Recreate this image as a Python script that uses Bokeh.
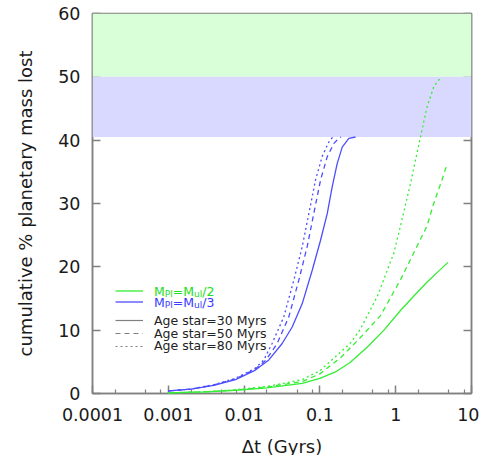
from bokeh.plotting import figure
from bokeh.models import (Range1d, FixedTicker, CustomJSTickFormatter, LinearAxis,
                          BoxAnnotation, Legend, LegendItem, Label)
from bokeh.embed import file_html
from bokeh.resources import INLINE

# ---------------- data ----------------
x_ticks = [0.0001, 0.001, 0.01, 0.1, 1, 10]
x_tick_labels = ["0.0001", "0.001", "0.01", "0.1", "1", "10"]
x_minor_mult = [2, 5, 8]
y_ticks = [0, 10, 20, 30, 40, 50, 60]

band_bottom = [50, 40.5]
band_top = [60, 50]

# M_Pl = M_ul/3 (blue)
t_blue_30 = [0.001, 0.002, 0.004, 0.0077, 0.0141, 0.0212, 0.0318, 0.0431, 0.0585, 0.0794, 0.102,
             0.125, 0.145, 0.169, 0.197, 0.241, 0.295]
m_blue_30 = [0.4, 0.7, 1.3, 2.2, 3.7, 5.3, 7.9, 10.5, 14.2, 19.5, 24.2,
             28.4, 32.6, 36.3, 38.9, 40.3, 40.5]
t_blue_50 = [0.001, 0.002, 0.004, 0.0077, 0.0141, 0.0195, 0.0273, 0.0389, 0.0527, 0.068, 0.083,
             0.102, 0.125, 0.153, 0.178, 0.19]
m_blue_50 = [0.4, 0.7, 1.35, 2.3, 3.85, 5.3, 7.9, 12.1, 17.9, 23.2, 28.4,
             33.7, 37.4, 39.5, 40.3, 40.5]
t_blue_80 = [0.001, 0.002, 0.004, 0.0077, 0.0141, 0.0182, 0.0234, 0.0334, 0.0453, 0.0585, 0.0715,
             0.0875, 0.107, 0.131, 0.148]
m_blue_80 = [0.4, 0.7, 1.4, 2.4, 4.0, 5.3, 7.9, 12.1, 17.9, 23.2, 28.4,
             33.7, 37.4, 39.7, 40.5]

# M_Pl = M_ul/2 (green)
t_green_30 = [0.001, 0.003, 0.0077, 0.02, 0.0585, 0.1, 0.16, 0.25, 0.34, 0.42, 0.7, 1.156, 1.8, 2.6, 3.6, 4.9]
m_green_30 = [0.1, 0.25, 0.5, 0.9, 1.6, 2.4, 3.4, 4.9, 6.3, 7.3, 10.0, 13.1, 15.6, 17.6, 19.2, 20.7]
t_green_50 = [0.001, 0.003, 0.0077, 0.02, 0.0585, 0.1, 0.16, 0.186, 0.34, 0.63, 1.15, 1.9, 2.6, 3.17, 4.07, 4.7]
m_green_50 = [0.1, 0.25, 0.55, 1.0, 1.9, 3.1, 5.0, 5.6, 8.8, 12.3, 17.9, 23.2, 26.5, 30.0, 33.7, 36.0]
t_green_80 = [0.001, 0.003, 0.0077, 0.02, 0.0585, 0.1, 0.16, 0.25, 0.34, 0.57, 0.94, 1.16, 1.57, 2.12,
              2.6, 3.17, 3.6, 4.1]
m_green_80 = [0.1, 0.25, 0.6, 1.1, 2.2, 3.6, 5.8, 7.9, 10.1, 15.3, 22.1, 26.5, 33.2, 40.5,
              45.3, 48.4, 49.4, 49.9]

age_labels = ["Age star=30 Myrs", "Age star=50 Myrs", "Age star=80 Myrs"]

# ---------------- style ----------------
FONT = "DejaVu Sans"
GRAY = "#808080"
TXT = "#1a1a1a"
GREEN = "#33ee33"
BLUE = "#4d4dff"
GREEN_TXT = "#22dd22"
BLUE_TXT = "#3a3aff"
DASHES = {"30": "solid", "50": "5 4", "80": "2 3"}

p = figure(width=479, height=455, frame_width=379, frame_height=380, x_axis_type="log",
           x_range=Range1d(x_ticks[0], x_ticks[-1]),
           y_range=Range1d(y_ticks[0], y_ticks[-1]),
           output_backend="svg", toolbar_location=None,
           min_border_left=92, min_border_right=8, min_border_top=13, min_border_bottom=62)
p.background_fill_color = "white"
p.border_fill_color = "white"
p.xgrid.visible = False
p.ygrid.visible = False
p.outline_line_color = GRAY
p.outline_line_width = 1.5

minor = [m * 10.0 ** k for k in range(-4, 1) for m in x_minor_mult]
xax = p.xaxis[0]
xax.ticker = FixedTicker(ticks=x_ticks, minor_ticks=minor)
xax.formatter = CustomJSTickFormatter(args=dict(tvals=x_ticks, tlabels=x_tick_labels), code="""
    for (let i = 0; i < tvals.length; i++) {
        if (Math.abs(tvals[i] - tick) <= 1e-9 * tvals[i]) return tlabels[i];
    }
    return '';
""")
yax = p.yaxis[0]
yax.ticker = FixedTicker(ticks=y_ticks, minor_ticks=[])

for ax in (xax, yax):
    ax.axis_line_color = GRAY
    ax.axis_line_width = 1.5
    ax.major_tick_line_color = GRAY
    ax.major_tick_line_width = 1.5
    ax.minor_tick_line_color = GRAY
    ax.minor_tick_line_width = 1.2
    ax.major_tick_in = 8
    ax.major_tick_out = 0
    ax.minor_tick_in = 4
    ax.minor_tick_out = 0
    ax.major_label_text_font = FONT
    ax.major_label_text_font_size = "17.5px"
    ax.major_label_text_color = TXT
    ax.axis_label_text_font = FONT
    ax.axis_label_text_font_size = "18px"
    ax.axis_label_text_font_style = "normal"
    ax.axis_label_text_color = TXT

xax.axis_label = "Δt (Gyrs)"
xax.major_label_standoff = 14
xax.axis_label_standoff = 12
yax.axis_label = "cumulative % planetary mass lost"
yax.major_label_standoff = 12
yax.axis_label_standoff = 19
yax.minor_tick_line_color = None

rax = LinearAxis(ticker=FixedTicker(ticks=y_ticks, minor_ticks=[]),
                 formatter=CustomJSTickFormatter(code="return '';"),
                 major_tick_in=8, major_tick_out=0, minor_tick_line_color=None,
                 major_tick_line_color=GRAY, major_tick_line_width=1.5,
                 major_label_text_font_size="0px",
                 axis_line_color=GRAY, axis_line_width=1.5, major_label_standoff=0)
p.add_layout(rax, "right")

# bands (drawn above axes ticks, below curves)
band_colors = ["#d9ffd9", "#d9d9ff"]
for b, t, c in zip(band_bottom, band_top, band_colors):
    p.add_layout(BoxAnnotation(bottom=b, top=t, fill_color=c, fill_alpha=1.0, line_color=None))

series = [
    (t_green_30, m_green_30, GREEN, "30"), (t_green_50, m_green_50, GREEN, "50"), (t_green_80, m_green_80, GREEN, "80"),
    (t_blue_30, m_blue_30, BLUE, "30"), (t_blue_50, m_blue_50, BLUE, "50"), (t_blue_80, m_blue_80, BLUE, "80"),
]
rends = {}
for tx, my, col, age in series:
    r = p.line(tx, my, line_color=col, line_width=1.3, line_dash=DASHES[age], level="overlay")
    rends[(col, age)] = r

# legend samples
leg_common = dict(orientation="vertical", glyph_width=28, spacing=0, padding=0, margin=0,
                  label_standoff=0, label_text_font_size="1px", label_height=1, label_width=1,
                  border_line_color=None, background_fill_alpha=0)
legA = Legend(items=[LegendItem(label=" ", renderers=[rends[(GREEN, "30")]]),
                     LegendItem(label=" ", renderers=[rends[(BLUE, "30")]])],
              location=(23, 86.5), glyph_height=11, **leg_common)
nan = float("nan")
gray_r = [p.line([nan], [nan], line_color=GRAY, line_width=1.2, line_dash=DASHES[a]) for a in ("30", "50", "80")]
leg_commonB = dict(leg_common)
leg_commonB["spacing"] = 1
legB = Legend(items=[LegendItem(label=" ", renderers=[r]) for r in gray_r],
              location=(23, 41.5), glyph_height=12, **leg_commonB)
p.add_layout(legA)
p.add_layout(legB)

# legend texts (screen units relative to the frame)
FB = 393  # canvas y of frame bottom
FL = 92   # canvas x of frame left
ADV = {"M": 1767, "P": 1235, "l": 569, "u": 1298, "=": 1716, "/": 690, "2": 1303, "3": 1303}
MAIN, SUB = 12.5, 9.0

def width(s, size):
    return sum(ADV[c] for c in s) / 2048 * size

def sub_label(baseline, last, color):
    x = 153.5 - FL
    pieces = [("M", MAIN, 0), ("Pl", SUB, 3), ("=M", MAIN, 0), ("ul", SUB, 3), ("/" + last, MAIN, 0)]
    for txt, size, dy in pieces:
        p.add_layout(Label(x=x, y=FB - baseline - dy, x_units="screen", y_units="screen", text=txt,
                           text_font=FONT, text_font_size=f"{size}px", text_color=color,
                           text_baseline="alphabetic", text_align="left"))
        x += width(txt, size)

sub_label(290.5, "2", GREEN_TXT)
sub_label(301.5, "3", BLUE_TXT)
for lab, base in zip(age_labels, [320.0, 332.5, 345.0]):
    p.add_layout(Label(x=153.5 - FL, y=FB - base, x_units="screen", y_units="screen", text=lab,
                       text_font=FONT, text_font_size=f"{MAIN}px", text_color="#222222",
                       text_baseline="alphabetic", text_align="left"))

open("out.html", "w").write(file_html(p, INLINE))
